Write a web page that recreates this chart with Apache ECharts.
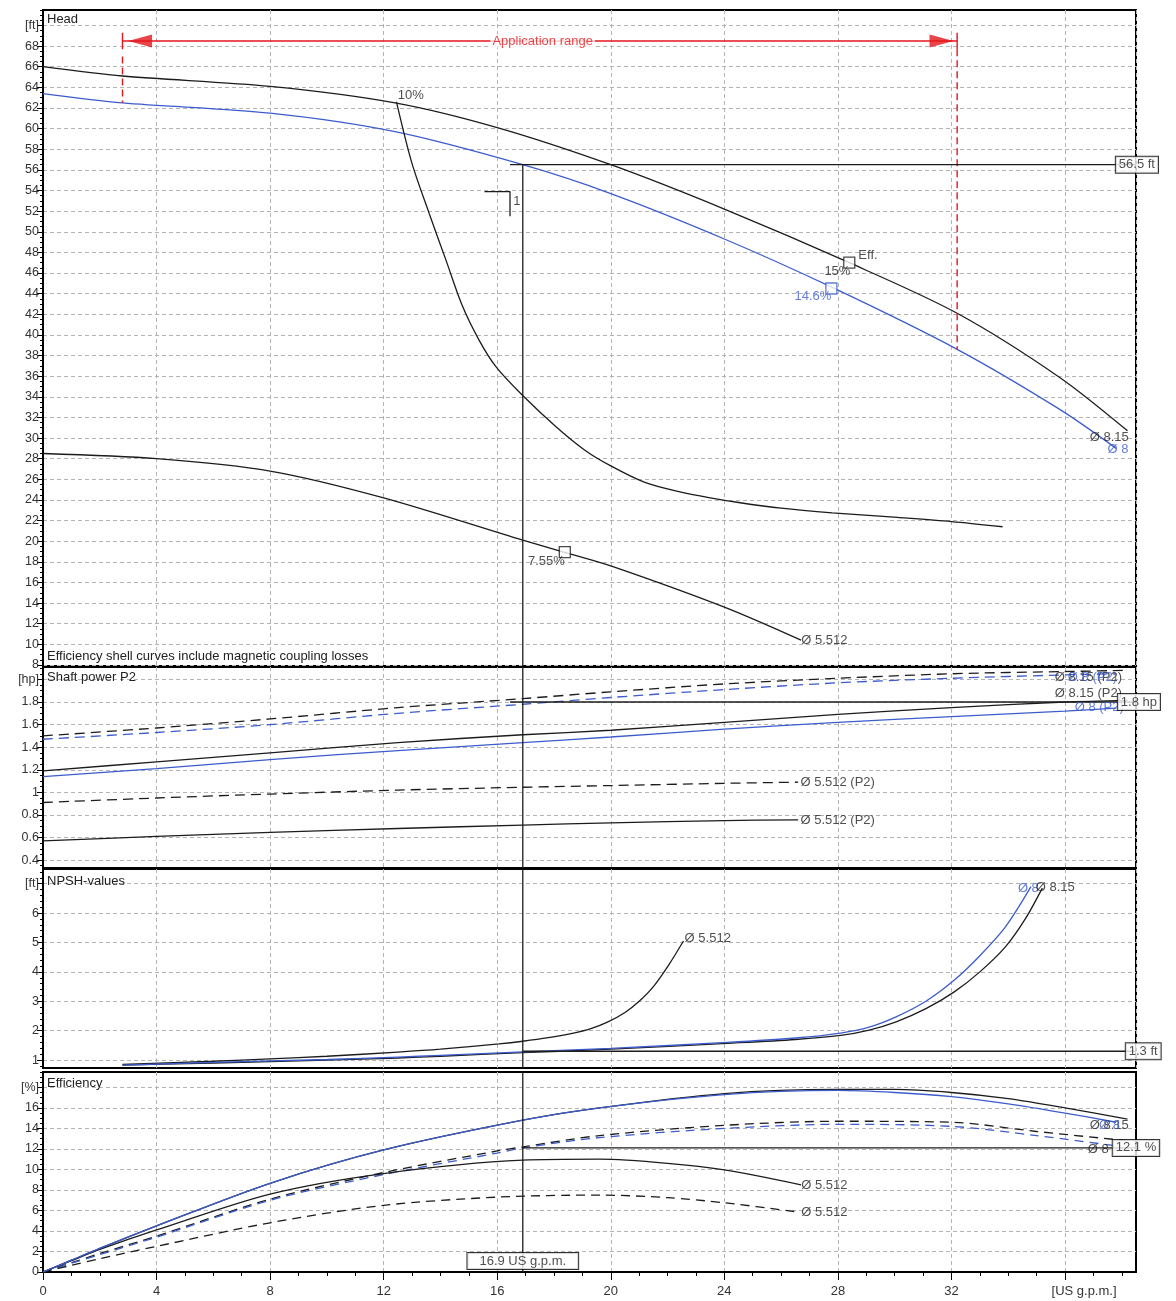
<!DOCTYPE html>
<html><head><meta charset="utf-8">
<script src="https://cdn.jsdelivr.net/npm/echarts@6/dist/echarts.min.js"></script>
<style>html,body{margin:0;padding:0;background:#fff}#c{width:1176px;height:1301px}</style>
</head><body><div id="c"></div>
<script>
// ---------- tick labels ----------
const xMajor = [0,4,8,12,16,20,24,28,32,36];
const xLabelVals = [0,4,8,12,16,20,24,28,32,36];
const xUnit = '[US g.p.m.]';
const headTicks = [8,10,12,14,16,18,20,22,24,26,28,30,32,34,36,38,40,42,44,46,48,50,52,54,56,58,60,62,64,66,68];
const powerTicks = [0.4,0.6,0.8,1,1.2,1.4,1.6,1.8];
const npshTicks = [1,2,3,4,5,6];
const effTicks = [0,2,4,6,8,10,12,14,16];
const units = {head:[70,'[ft]'], power:[2,'[hp]'], npsh:[7,'[ft]'], eff:[18,'[%]']};

// ---------- series values [flow US gpm, value] ----------
const headD815 = [[0,66.0],[2.8,65.1],[8,64.1],[12.4,62.5],[16,60.1],[20,56.5],[24,52.2],[28.4,47.0],[32.2,42.1],[35.8,35.9],[38.2,30.7]];
const headD8 = [[0,63.4],[2.8,62.5],[8,61.5],[12.4,59.7],[16.9,56.5],[20,53.7],[24,49.3],[27.8,44.6],[32.2,38.6],[35.8,32.8],[37.8,29.0]];
const effShell10 = [[12.45,62.6],[13.0,56.6],[13.6,51.8],[14.2,47.2],[14.76,42.9],[15.36,39.5],[15.96,36.9],[16.87,34.2],[18.07,31.1],[19.1,28.8],[20.0,27.3],[21.2,25.7],[22.4,24.8],[23.5,24.2],[24.5,23.75],[26,23.2],[27.8,22.75],[30.1,22.3],[32,21.9],[33.8,21.4]];
const headD5512 = [[0,28.5],[4,28.0],[8,26.8],[12,24.2],[16.9,20.1],[18.4,18.9],[20,17.6],[24,13.6],[26.7,10.4]];

const powD815 = [[0,1.19],[4,1.27],[8,1.35],[12.5,1.44],[16.9,1.51],[20,1.55],[24,1.62],[28,1.69],[32,1.75],[36,1.80],[38.2,1.815]];
const powD8 = [[0,1.14],[4,1.21],[8,1.29],[12.5,1.37],[16.9,1.44],[20,1.49],[24,1.56],[28,1.62],[32,1.67],[36,1.72],[37.8,1.745]];
const powDashD815 = [[0,1.50],[4,1.57],[8,1.65],[12.5,1.75],[16.9,1.83],[20,1.89],[24,1.96],[28,2.01],[32,2.05],[36,2.07],[38.2,2.08]];
const powDashD8 = [[0,1.47],[4,1.53],[8,1.60],[12.5,1.70],[16.9,1.78],[20,1.84],[24,1.91],[28,1.97],[32,2.01],[36,2.04],[37.8,2.05]];
const powDashD5512 = [[0,0.91],[4,0.95],[8,0.985],[12.5,1.02],[16.9,1.045],[20,1.06],[24,1.08],[26.6,1.09]];
const powD5512 = [[0,0.57],[4,0.61],[8,0.645],[12.5,0.68],[16.9,0.71],[20,0.73],[24,0.75],[26.6,0.757]];

const npshD5512 = [[2.8,0.85],[6,0.96],[8,1.04],[10,1.13],[12.5,1.27],[14,1.37],[16.06,1.55],[16.9,1.64],[17.8,1.76],[18.6,1.9],[19.3,2.07],[19.9,2.3],[20.5,2.62],[21.0,3.0],[21.5,3.5],[22.05,4.25],[22.56,5.05]];
const npshD815 = [[2.8,0.83],[6,0.9],[10,1.0],[12.5,1.07],[14,1.13],[16.9,1.25],[20,1.37],[24.1,1.57],[26.5,1.7],[28.1,1.84],[29.1,2.02],[30.05,2.3],[31.1,2.75],[32.1,3.32],[33.0,4.0],[33.9,4.85],[34.6,5.8],[35.2,6.85]];
const npshD8 = [[2.8,0.83],[6,0.92],[10,1.02],[12.5,1.1],[14,1.16],[16.9,1.28],[20,1.4],[24.1,1.6],[26.5,1.75],[28.1,1.92],[29.1,2.12],[30.05,2.47],[31.1,3.0],[32.1,3.72],[33.0,4.55],[33.9,5.53],[34.8,6.9]];

const effD815 = [[0,0],[1,1.15],[2,2.3],[4,4.5],[8,8.65],[12,11.9],[16.9,14.8],[19.6,16.0],[24,17.4],[28,17.8],[30,17.8],[32,17.5],[34,16.9],[36,16.0],[38.2,14.9]];
const effD8 = [[0,0],[1,1.15],[2,2.3],[4,4.5],[8,8.65],[12,11.9],[16.9,14.8],[19.6,16.0],[24,17.3],[28,17.7],[30,17.5],[32,17.1],[34,16.4],[36,15.5],[37.8,14.6]];
const effDashD815 = [[0,0],[1,0.9],[2,1.8],[4,3.5],[8,7.1],[12,9.7],[16,11.8],[16.9,12.2],[19.6,13.3],[24,14.3],[28,14.7],[32,14.6],[35,13.7],[38.2,12.8]];
const effDashD8 = [[0,0],[1,0.85],[2,1.7],[4,3.4],[8,7.0],[12,9.5],[16,11.6],[16.9,12.1],[19.6,13.1],[24,14.0],[28,14.4],[32,14.2],[35,13.3],[37.8,12.3]];
const effD5512 = [[0,0],[1,1.1],[2,2.2],[4,4.1],[8,7.6],[12,9.6],[16.9,10.9],[19.6,11.0],[22,10.6],[24,9.95],[26.7,8.5]];
const effDashD5512 = [[0,0],[1,0.65],[2,1.3],[4,2.5],[8,4.8],[12,6.5],[16,7.3],[19.6,7.5],[22,7.25],[24,6.75],[26.6,5.85]];

// duty point
const dutyQ = 16.9, dutyH = 56.5, dutyP = 1.8, dutyNPSH = 1.3, dutyEff = 12.1;
// application range
const appMin = 2.8, appMax = 32.2;
// efficiency points on curves
const effPoints = [[28.4,47.0,'15%'],[27.77,44.5,'14.6%'],[18.38,18.95,'7.55%']];

// ---------- helpers ----------
const BLK = '#1c1c1c', BLU = '#3d5ccc', RED = '#e3161c', GRIDC = '#b4b4b4';
const FONT = 'Liberation Sans';
const ranges = [[7.9,71.5],[0.33,2.11],[0.73,7.5],[0,19.5]];
const XMAX = 38.5;

function range(a,b,s){const r=[];for(let v=a;v<=b+1e-9;v+=s)r.push(Math.round(v*1000)/1000);return r;}
function yAxes(g, ticks, unit, minorStep){
  const [mn,mx] = ranges[g];
  const vals = ticks.concat([unit[0]]);
  return [{
    type:'value', gridIndex:g, min:mn, max:mx, position:'left',
    axisLine:{show:true,lineStyle:{color:'#000',width:1}},
    axisTick:{show:true,customValues:vals,length:6,lineStyle:{color:'#000',width:1}},
    axisLabel:{show:true,customValues:vals,margin:4,color:'#333',fontSize:12.5,fontFamily:FONT,
      formatter:v=>Math.abs(v-unit[0])<1e-6?unit[1]:String(v)},
    splitLine:{show:true,lineStyle:{color:GRIDC,type:[4,3],width:1}}
  },{
    type:'value', gridIndex:g, min:mn, max:mx, position:'left',
    axisLine:{show:false},
    axisTick:{show:true,customValues:range(Math.ceil(mn/minorStep)*minorStep,mx,minorStep),length:3,lineStyle:{color:'#000',width:1}},
    axisLabel:{show:false}, splitLine:{show:false}
  }];
}
function line(g,data,color,o){
  o=o||{};
  return {type:'line',xAxisIndex:g,yAxisIndex:2*g,data:data,showSymbol:false,symbol:'none',
    smooth:o.smooth===undefined?0.3:o.smooth,silent:true,z:o.z||3,animation:false,
    lineStyle:{color:color,width:o.w||1.3,type:o.dash||'solid'}};
}
function texts(g,items){
  return {type:'scatter',xAxisIndex:g,yAxisIndex:2*g,symbolSize:0,silent:true,clip:false,z:20,animation:false,
    data:items.map(it=>({value:[it[0],it[1]],label:Object.assign({show:true,formatter:it[2],position:it[3]||'right',distance:0,
      color:it[4]||'#222',fontSize:13,fontFamily:FONT},it[5]||{})}))};
}
const box = {borderColor:'#000',borderWidth:1,padding:[2,3,1,3],backgroundColor:'#fff',color:'#222'};
function squares(g,pts,color){
  return {type:'scatter',xAxisIndex:g,yAxisIndex:2*g,symbol:'rect',symbolSize:11,silent:true,z:8,clip:false,animation:false,
    itemStyle:{color:'#fff',borderColor:color,borderWidth:1.3},data:pts};
}

const grids = [
  {left:43,right:40,top:10,height:656},
  {left:43,right:40,top:667,height:201},
  {left:43,right:40,top:869,height:199},
  {left:43,right:40,top:1072,height:200}
].map(g=>Object.assign(g,{show:true,borderColor:'#000',borderWidth:2,backgroundColor:'transparent',containLabel:false}));

const xAxes = [0,1,2].map(g=>({type:'value',gridIndex:g,min:0,max:XMAX,interval:4,
  axisLine:{show:false},axisTick:{show:false},axisLabel:{show:false},
  splitLine:{show:true,lineStyle:{color:GRIDC,type:[4,3],width:1}}})).concat([
  {type:'value',gridIndex:3,min:0,max:XMAX,position:'bottom',
    axisLine:{show:true,lineStyle:{color:'#000',width:2}},
    axisTick:{show:true,customValues:xMajor,length:8,lineStyle:{color:'#000',width:1}},
    axisLabel:{show:true,customValues:xLabelVals,margin:13,color:'#333',fontSize:13,fontFamily:FONT,
      formatter:v=>v===36?'{u|'+xUnit+'}':String(v),rich:{u:{padding:[0,0,0,38],fontSize:13,fontFamily:FONT,color:'#333'}}},
    splitLine:{show:true,lineStyle:{color:GRIDC,type:[4,3],width:1}}},
  {type:'value',gridIndex:3,min:0,max:XMAX,position:'bottom',
    axisLine:{show:false},axisTick:{show:true,customValues:range(0,38,1),length:4,lineStyle:{color:'#000',width:1}},
    axisLabel:{show:false},splitLine:{show:false}}
]);

const yA = [].concat(
  yAxes(0,headTicks,units.head,0.5),
  yAxes(1,powerTicks,units.power,0.05),
  yAxes(2,npshTicks,units.npsh,0.2),
  yAxes(3,effTicks,units.eff,0.5));

const series = [
  // ----- head -----
  line(0,headD815,BLK),
  line(0,headD8,BLU),
  line(0,effShell10,BLK),
  line(0,headD5512,BLK),
  line(0,[[dutyQ,dutyH],[dutyQ,ranges[0][0]]],BLK,{smooth:false,z:4}),
  line(0,[[16.45,dutyH],[XMAX,dutyH]],BLK,{smooth:false,z:4}),
  line(0,[[15.55,53.9],[16.45,53.9],[16.45,51.5]],BLK,{smooth:false}),
  // application range
  line(0,[[appMin,68.5],[appMax,68.5]],RED,{smooth:false,w:1.4}),
  line(0,[[appMin,69.3],[appMin,67.7]],RED,{smooth:false,w:1.4}),
  line(0,[[appMax,69.3],[appMax,67.7]],RED,{smooth:false,w:1.4}),
  line(0,[[appMin,67.0],[appMin,62.5]],RED,{smooth:false,w:1.4,dash:[7,4]}),
  line(0,[[appMax,67.7],[appMax,38.6]],RED,{smooth:false,w:1.4,dash:[7,4]}),
  {type:'scatter',xAxisIndex:0,yAxisIndex:0,symbol:'triangle',symbolSize:[13,24],silent:true,z:6,animation:false,
    itemStyle:{color:RED},data:[{value:[3.42,68.5],symbolRotate:90},{value:[31.65,68.5],symbolRotate:-90}]},
  texts(0,[[17.6,68.5,'Application range','inside',RED,{backgroundColor:'#fff',padding:[0,2]}]]),
  squares(0,[[28.4,47.0],[18.38,18.95]],BLK),
  squares(0,[[27.77,44.5]],BLU),
  texts(0,[
    [12.5,63.2,'10%'],
    [28.72,47.7,'Eff.'],
    [28.44,46.2,effPoints[0][2],'left'],
    [27.77,43.75,effPoints[1][2],'left',BLU],
    [18.38,18.0,effPoints[2][2],'left'],
    [26.71,10.4,'Ø 5.512'],
    [36.87,30.1,'Ø 8.15'],
    [37.5,28.9,'Ø 8','right',BLU],
    [16.56,52.96,'1'],
    [37.79,dutyH,dutyH+' ft','right','#222',box]
  ]),
  // ----- power -----
  line(1,powDashD815,BLK,{dash:[10,6]}),
  line(1,powDashD8,BLU,{dash:[10,6]}),
  line(1,powD815,BLK),
  line(1,powD8,BLU),
  line(1,powDashD5512,BLK,{dash:[10,6]}),
  line(1,powD5512,BLK),
  line(1,[[dutyQ,ranges[1][0]],[dutyQ,ranges[1][1]]],BLK,{smooth:false,z:4}),
  line(1,[[16.45,dutyP],[XMAX,dutyP]],BLK,{smooth:false,z:4}),
  texts(1,[
    [35.64,2.02,'Ø 8.15 (P2)'],
    [36.1,2.02,'Ø 8 (P2)','right',BLU],
    [35.64,1.88,'Ø 8.15 (P2)'],
    [36.34,1.755,'Ø 8 (P2)','right',BLU],
    [26.68,1.09,'Ø 5.512 (P2)'],
    [26.68,0.754,'Ø 5.512 (P2)'],
    [37.86,dutyP,dutyP+' hp','right','#222',box]
  ]),
  // ----- npsh -----
  line(2,npshD5512,BLK),
  line(2,npshD815,BLK),
  line(2,npshD8,BLU),
  line(2,[[dutyQ,ranges[2][0]],[dutyQ,ranges[2][1]]],BLK,{smooth:false,z:4}),
  line(2,[[dutyQ,dutyNPSH],[XMAX,dutyNPSH]],BLK,{smooth:false,z:4}),
  texts(2,[
    [22.6,5.15,'Ø 5.512'],
    [34.34,6.85,'Ø 8','right',BLU],
    [34.97,6.88,'Ø 8.15'],
    [38.14,dutyNPSH,dutyNPSH+' ft','right','#222',box]
  ]),
  // ----- efficiency -----
  line(3,effDashD815,BLK,{dash:[9,6]}),
  line(3,effDashD8,BLU,{dash:[9,6]}),
  line(3,effD5512,BLK),
  line(3,effDashD5512,BLK,{dash:[9,6]}),
  line(3,effD815,BLK),
  line(3,effD8,BLU),
  line(3,[[dutyQ,ranges[3][0]],[dutyQ,ranges[3][1]]],BLK,{smooth:false,z:4}),
  line(3,[[dutyQ,dutyEff],[XMAX,dutyEff]],BLK,{smooth:false,z:4}),
  texts(3,[
    [36.87,14.3,'Ø 8.15'],
    [37.2,14.3,'Ø 8','right',BLU],
    [36.8,12.0,'Ø 8'],
    [26.71,8.48,'Ø 5.512'],
    [26.71,5.85,'Ø 5.512'],
    [37.68,dutyEff,dutyEff+' %','right','#222',box],
    [dutyQ,1.07,dutyQ+' US g.p.m.','inside','#222',Object.assign({},box,{padding:[2,12,1,12]})]
  ])
];

const titleStyle = {font:'13px "Liberation Sans"',fill:'#222'};
const graphic = [
  {type:'text',left:47,top:13,style:Object.assign({text:'Head'},titleStyle),z:30},
  {type:'text',left:47,top:650,style:Object.assign({text:'Efficiency shell curves include magnetic coupling losses'},titleStyle),z:30},
  {type:'text',left:47,top:671,style:Object.assign({text:'Shaft power P2'},titleStyle),z:30},
  {type:'text',left:47,top:875,style:Object.assign({text:'NPSH-values'},titleStyle),z:30},
  {type:'text',left:47,top:1077,style:Object.assign({text:'Efficiency'},titleStyle),z:30}
];

const chart = echarts.init(document.getElementById('c'),null,{renderer:'canvas'});
chart.setOption({animation:false,backgroundColor:'#fff',grid:grids,xAxis:xAxes,yAxis:yA,series:series,graphic:graphic});
</script>
</body></html>
